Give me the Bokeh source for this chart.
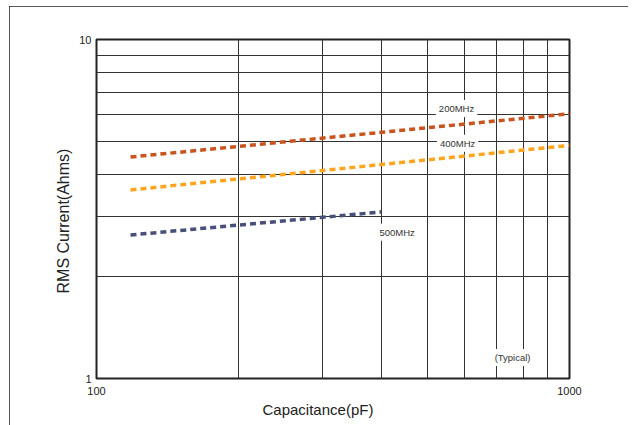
from bokeh.plotting import figure
from bokeh.models import FixedTicker, PrintfTickFormatter, Label, Title
from bokeh.embed import file_html
from bokeh.resources import INLINE

# Data (capacitance pF, RMS current)
cap_200 = [118, 1000]
irms_200 = [4.5, 6.04]
cap_400 = [118, 1000]
irms_400 = [3.6, 4.87]
cap_500 = [118, 400]
irms_500 = [2.65, 3.1]

x_grid = [200, 300, 400, 500, 600, 700, 800, 900]
y_grid = [2, 3, 4, 5, 6, 7, 8, 9]
x_ticks = [100, 1000]
y_ticks = [1, 10]

series_labels = ["200MHz", "400MHz", "500MHz"]
label_x = [577, 580, 432]
label_y = [6.26, 4.94, 2.70]

FONT = "Liberation Sans"
TXT = "#222222"

p = figure(width=619, height=419, x_axis_type="log", y_axis_type="log",
           x_range=(100, 1000), y_range=(1, 10),
           output_backend="svg", toolbar_location=None,
           min_border_left=87, min_border_right=59,
           min_border_top=33, min_border_bottom=47)
p.styles = {"margin-left": "9px", "margin-top": "6px",
            "outline": "1px solid #222", "outline-offset": "-1px"}

p.outline_line_color = "#222222"
p.outline_line_width = 2
p.outline_line_alpha = 1

p.xgrid.ticker = FixedTicker(ticks=x_grid)
p.ygrid.ticker = FixedTicker(ticks=y_grid)
for g in (p.xgrid, p.ygrid):
    g.grid_line_color = "#333333"
    g.grid_line_width = 1
    g.grid_line_alpha = 1

p.xaxis.ticker = FixedTicker(ticks=x_ticks)
p.yaxis.ticker = FixedTicker(ticks=y_ticks)
for ax in (p.xaxis, p.yaxis):
    ax.formatter = PrintfTickFormatter(format="%d")
    ax.axis_line_color = None
    ax.major_tick_line_color = None
    ax.minor_tick_line_color = None
    ax.major_tick_out = 0
    ax.major_tick_in = 0
    ax.minor_tick_out = 0
    ax.minor_tick_in = 0
    ax.major_label_text_font = FONT
    ax.major_label_text_font_size = "11px"
    ax.major_label_text_color = TXT
p.xaxis.major_label_standoff = 8
p.yaxis.major_label_standoff = 5

colors = ["#C8541F", "#FFA61E", "#47507A"]
for xs, ys, c in ((cap_200, irms_200, colors[0]),
                  (cap_400, irms_400, colors[1]),
                  (cap_500, irms_500, colors[2])):
    p.line(xs, ys, line_color=c, line_width=3.5, line_dash="6 4")

for t, lx, ly in zip(series_labels, label_x, label_y):
    p.add_layout(Label(x=lx, y=ly, text=t, text_font=FONT, text_font_size="9.5px",
                       text_color="#333333", text_align="center",
                       text_baseline="middle", background_fill_color="white",
                       padding=3))

p.add_layout(Label(x=758, y=1.153, text="(Typical)", text_font=FONT,
                   text_font_size="9.5px", text_color="#333333",
                   text_align="center", text_baseline="middle",
                   background_fill_color="white", padding=3))

# axis titles (placed off-centre, as in the reference)
p.add_layout(Title(text="Capacitance(pF)", align="left", offset=166, standoff=3,
                   text_font=FONT, text_font_size="15px", text_font_style="normal",
                   text_color=TXT), "below")
p.add_layout(Title(text="RMS Current(Ahms)", align="left", offset=85, standoff=9,
                   text_font=FONT, text_font_size="16px", text_font_style="normal",
                   text_color=TXT), "left")

open("out.html", "w").write(file_html(p, INLINE))
